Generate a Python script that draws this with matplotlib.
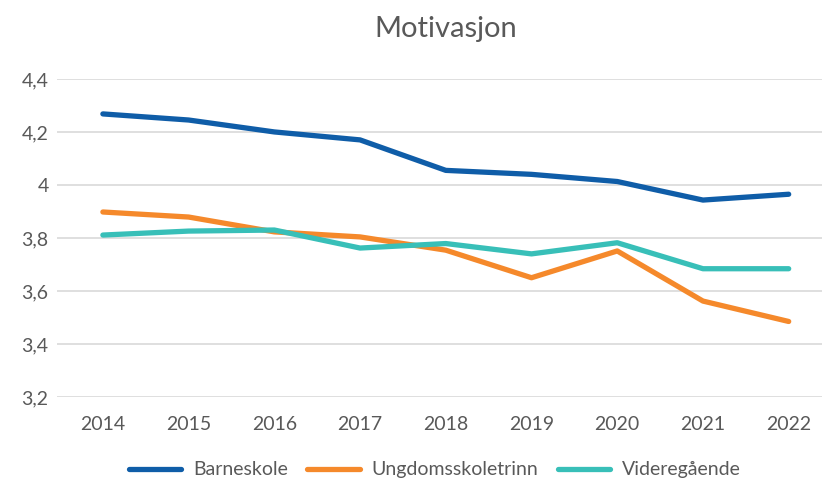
import matplotlib.pyplot as plt
import numpy as np

plt.rcParams['font.family'] = ['Lato', 'DejaVu Sans']

years = ['2014', '2015', '2016', '2017', '2018', '2019', '2020', '2021', '2022']
barneskole = [4.268, 4.245, 4.200, 4.170, 4.055, 4.040, 4.013, 3.943, 3.965]
ungdom = [3.898, 3.879, 3.823, 3.804, 3.754, 3.650, 3.751, 3.562, 3.485]
videregaende = [3.811, 3.826, 3.830, 3.762, 3.779, 3.740, 3.782, 3.684, 3.684]
series_names = ['Barneskole', 'Ungdomsskoletrinn', 'Videregående']
y_ticks = [3.2, 3.4, 3.6, 3.8, 4.0, 4.2, 4.4]
y_labels = ['3,2', '3,4', '3,6', '3,8', '4', '4,2', '4,4']
colors = ['#0F5DA8', '#F5892B', '#38BFB8']

fig = plt.figure(figsize=(8.25, 4.83), dpi=100)
ax = fig.add_axes([0.069, 0.178, 0.927, 0.6586])

x = np.arange(len(years))
for vals, name, c in zip([barneskole, ungdom, videregaende], series_names, colors):
    ax.plot(x, vals, color=c, linewidth=3.8, solid_capstyle='round',
            solid_joinstyle='round', label=name)

ax.set_ylim(3.2, 4.4)
ax.set_xlim(-0.536, 8.385)
ax.set_yticks(y_ticks)
ax.set_yticklabels(y_labels)
ax.set_xticks(x)
ax.set_xticklabels(years)
ax.grid(axis='y', color='#D9D9D9', linewidth=1.2)
ax.set_axisbelow(True)
for s in ax.spines.values():
    s.set_visible(False)
ax.tick_params(axis='both', length=0, labelsize=14, colors='#595959')
ax.tick_params(axis='x', pad=14)
ax.tick_params(axis='y', pad=6)

fig.text(0.54, 0.94, 'Motivasjon', ha='center', va='center',
         fontsize=21, color='#595959')

fig.legend(loc='center', bbox_to_anchor=(0.527, 0.027), ncol=3, frameon=False,
           fontsize=14, labelcolor='#595959', handlelength=2.7,
           columnspacing=1.0, handletextpad=0.6)

fig.savefig('out.png', dpi=100)
